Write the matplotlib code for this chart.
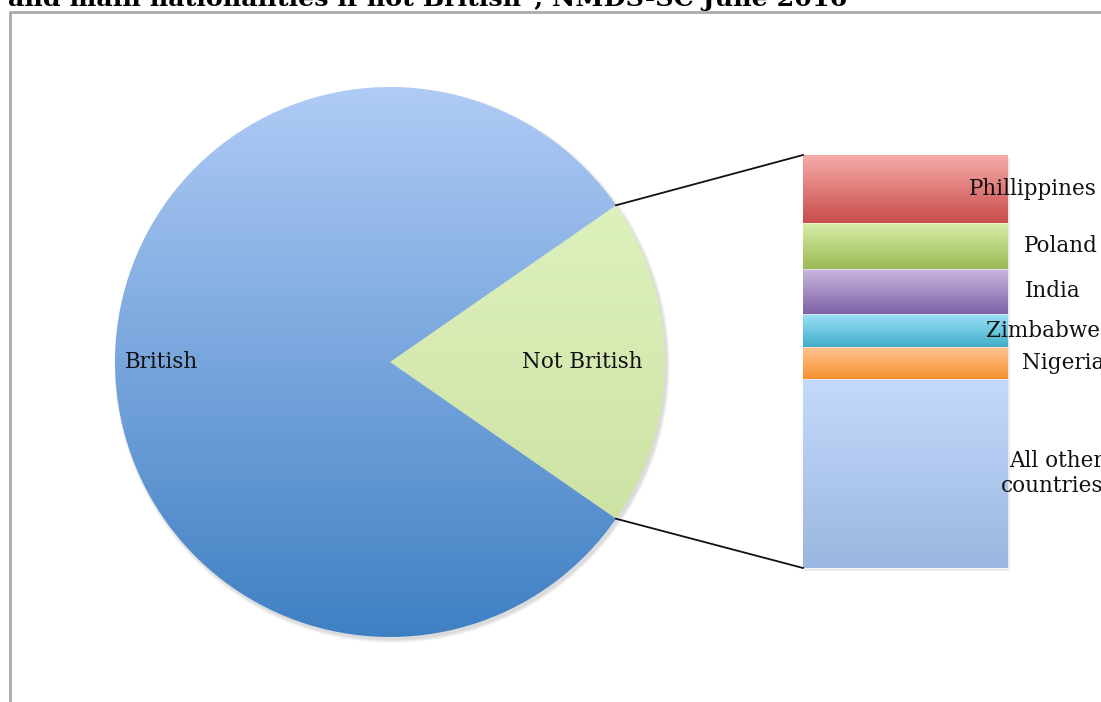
import numpy as np
import matplotlib.pyplot as plt
from matplotlib.colors import to_rgb

# Pie: share of workers (%)
pie_labels = ['Not British', 'British']
pie_values = [19.3, 80.7]

# Breakdown of the "Not British" slice (%), top to bottom
bar_labels = ['Phillippines', 'Poland', 'India', 'Zimbabwe', 'Nigeria', 'All other\ncountries']
bar_values = [16.5, 11.1, 10.9, 8.0, 7.7, 45.8]

title_text = 'and main nationalities if not British*, NMDS-SC June 2016'

# gradient colours (top, bottom)
pie_grad = [('#e3f6c6', '#c8dd9c'), ('#b0cbf6', '#3f80c3')]
bar_grad = [('#f6adab', '#c84c49'), ('#d8eca9', '#9aba54'), ('#cbb8e0', '#7e62a6'),
            ('#9de3f7', '#42adca'), ('#fdc392', '#f6912f'), ('#c4dafc', '#9bb6df')]

W, H = 1101, 702
fig = plt.figure(figsize=(W / 100, H / 100), dpi=100)
ax = fig.add_axes([0, 0, 1, 1])
serif = ['DejaVu Serif']


def vgradient(top, bottom, n=256):
    c1, c2 = np.array(to_rgb(top)), np.array(to_rgb(bottom))
    t = np.linspace(0, 1, n)[:, None]
    return (c1 * (1 - t) + c2 * t)[:, None, :]


center = (390, H - 362)
radius = 275
half = 360 * pie_values[0] / sum(pie_values) / 2

# soft shadow
for k in range(6):
    ax.add_patch(plt.Circle((center[0] + 2, center[1] - 3), radius + 3 - k * 0.6,
                            color='black', alpha=0.025, lw=0, zorder=1))

wedges, _ = ax.pie(pie_values, startangle=-half, center=center, radius=radius,
                   frame=True, wedgeprops=dict(lw=0, zorder=2))
for w, (c1, c2) in zip(wedges, pie_grad):
    im = ax.imshow(vgradient(c1, c2), extent=(center[0] - radius, center[0] + radius,
                                               center[1] - radius, center[1] + radius),
                   origin='upper', aspect='auto', interpolation='bilinear', zorder=2)
    im.set_clip_path(w)
    w.set_facecolor('none')

for w, lab, dist in zip(wedges, pie_labels, [0.70, 0.83]):
    mid = np.deg2rad((w.theta1 + w.theta2) / 2)
    ax.text(center[0] + dist * radius * np.cos(mid), center[1] + dist * radius * np.sin(mid),
            lab, ha='center', va='center', fontsize=15.5, family=serif, color='#111111', zorder=5)

# stacked bar of the "Not British" slice
bar_x, bar_w = 803, 205
bar_top, bar_h = H - 155, 413
scale = bar_h / sum(bar_values)
tops = bar_top - np.concatenate([[0], np.cumsum(bar_values)[:-1]]) * scale
heights = np.array(bar_values) * scale

ax.add_patch(plt.Rectangle((bar_x + 2, bar_top - bar_h - 3), bar_w, bar_h,
                           color='black', alpha=0.08, lw=0, zorder=1))
bars = ax.bar([bar_x + bar_w / 2] * len(bar_values), heights, width=bar_w,
              bottom=tops - heights, linewidth=0, zorder=3)
for b, (c1, c2) in zip(bars, bar_grad):
    x0, y0 = b.get_x(), b.get_y()
    im = ax.imshow(vgradient(c1, c2, 128), extent=(x0, x0 + b.get_width(), y0, y0 + b.get_height()),
                   origin='upper', aspect='auto', interpolation='bilinear', zorder=3)
    im.set_clip_path(b)
    b.set_facecolor('none')
    # thin white separator
    ax.plot([x0, x0 + b.get_width()], [y0, y0], color='white', lw=0.6, alpha=0.6, zorder=4)

label_left = [969, 1024, 1025, 986, 1022, 1001]
for lab, lx, tp, h in zip(bar_labels, label_left, tops, heights):
    ax.text(lx, tp - h / 2, lab, ha='left', va='center', fontsize=15.5, family=serif,
            color='#111111', zorder=5, linespacing=1.2, multialignment='right')

# connector lines from the slice edges to the bar corners
w_nb = wedges[0]
for ang, by in [(w_nb.theta2, bar_top), (w_nb.theta1, bar_top - bar_h)]:
    a = np.deg2rad(ang)
    ax.plot([center[0] + radius * np.cos(a), bar_x], [center[1] + radius * np.sin(a), by],
            color='#111111', lw=1.3, zorder=4)

# outer frame and clipped title
ax.plot([10, 10, W + 5], [-5, H - 12, H - 12], color='#aaaaaa', lw=2, zorder=6)
ax.text(8, H - 6, title_text, ha='left', va='baseline', fontsize=18.3, family=serif,
        fontweight='bold', color='black', zorder=6)

ax.set_xlim(0, W)
ax.set_ylim(0, H)
ax.set_axis_off()
fig.savefig('out.png', dpi=100)
